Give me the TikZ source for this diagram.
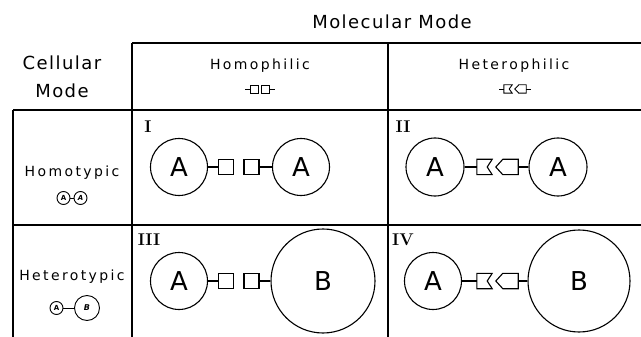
\documentclass[tikz,border=0pt]{standalone}
\usepackage{fontspec}
\newfontfamily\hdfont[LetterSpace=8]{DejaVu Sans}
\newfontfamily\lbfont[LetterSpace=17]{DejaVu Sans}
\newfontfamily\cellfont{DejaVu Sans}
\begin{document}
\begin{tikzpicture}[x=1pt,y=-1pt,
  frame/.style={line width=1.8pt},
  conn/.style={line width=1.1pt},
  thinconn/.style={line width=0.9pt},
  cellc/.style={circle,draw,line width=1.1pt,inner sep=0pt,font=\cellfont\fontsize{26}{26}\selectfont},
  recsq/.style={rectangle,draw,line width=1.1pt,inner sep=0pt,minimum width=15pt,minimum height=15pt},
  recbox/.style={rectangle,inner sep=0pt,minimum height=15pt},
  smsq/.style={rectangle,draw,line width=0.9pt,inner sep=0pt,minimum width=8pt,minimum height=8pt},
  smbox/.style={rectangle,inner sep=0pt,minimum height=8pt},
  icoc/.style={circle,draw,line width=0.9pt,inner sep=0pt,font=\cellfont\bfseries\fontsize{7}{7}\selectfont},
  hd/.style={font=\hdfont\fontsize{18}{18}\selectfont},
  lbl/.style={font=\lbfont\fontsize{14}{14}\selectfont},
  num/.style={font=\rmfamily\bfseries\fontsize{17}{17}\selectfont}
]
\fill[white] (0,0) rectangle (641,337);
\useasboundingbox (0,0) rectangle (641,337);

% table frame
\draw[frame] (132,43) -- (641,43);
\draw[frame] (13,110) -- (641,110);
\draw[frame] (13,225) -- (641,225);
\draw[frame] (13,110) -- (13,337);
\draw[frame] (132,43) -- (132,337);
\draw[frame] (388,43) -- (388,337);

% headings
\node[hd] (mm) at (392,22) {Molecular Mode};
\node[hd] (cm1) at (62,63) {Cellular};
\node[hd] (cm2) at (62,91) {Mode};
\node[lbl] (homoph) at (260,66) {Homophilic};
\node[lbl] (heteroph) at (514,66) {Heterophilic};
\node[lbl] (homot) at (72,173) {Homotypic};
\node[lbl] (heterot) at (72,277) {Heterotypic};

% homophilic icon
\node[smsq] (hs1) at (254.5,89) {};
\node[smsq] (hs2) at (265.5,89) {};
\coordinate (hsl) at (245,89);
\coordinate (hsr) at (275,89);
\draw[thinconn] (hsl) -- (hs1);
\draw[thinconn] (hs2) -- (hsr);

% heterophilic icon
\node[smbox,minimum width=8pt] (hn) at (508,89) {};
\draw[line width=0.9pt] (hn.north west) -- (hn.north east) -- ([xshift=-3pt]hn.east) -- (hn.south east) -- (hn.south west) -- cycle;
\node[smbox,minimum width=11pt] (hp) at (520.5,89) {};
\draw[line width=0.9pt] (hp.north east) -- ([xshift=4pt]hp.north west) -- (hp.west) -- ([xshift=4pt]hp.south west) -- (hp.south east) -- cycle;
\coordinate (hnl) at (499,89);
\coordinate (hpr) at (531,89);
\draw[thinconn] (hnl) -- (hn);
\draw[thinconn] (hp) -- (hpr);

% homotypic icon
\node[icoc,minimum size=13pt] (ta1) at (63.5,198) {A};
\node[icoc,minimum size=13pt,font=\cellfont\bfseries\itshape\fontsize{7}{7}\selectfont] (ta2) at (80.5,198) {A};
\draw[thinconn] (ta1) -- (ta2);

% heterotypic icon
\node[icoc,minimum size=13pt] (tb1) at (56.5,308) {A};
\node[icoc,minimum size=25pt,font=\cellfont\bfseries\itshape\fontsize{8}{8}\selectfont] (tb2) at (87,308) {B};
\draw[thinconn] (tb1) -- (tb2);

% numerals
\node[num] (n1) at (148,127) {I};
\node[num] (n2) at (403,127) {II};
\node[num] (n3) at (149,240) {III};
\node[num] (n4) at (403,240) {IV};

% panel I
\node[cellc,minimum size=57pt] (c1a) at (179,167) {A};
\node[recsq] (c1s1) at (226,167) {};
\node[recsq] (c1s2) at (251.5,167) {};
\node[cellc,minimum size=57pt] (c1b) at (301,167) {A};
\draw[conn] (c1a) -- (c1s1);
\draw[conn] (c1s2) -- (c1b);

% panel II
\node[cellc,minimum size=58pt] (c2a) at (435,167) {A};
\node[recbox,minimum width=15pt] (c2n) at (484.5,167) {};
\draw[conn] (c2n.north west) -- (c2n.north east) -- ([xshift=-5pt]c2n.east) -- (c2n.south east) -- (c2n.south west) -- cycle;
\node[recbox,minimum width=22pt] (c2p) at (507,167) {};
\draw[conn] (c2p.north east) -- ([xshift=7pt]c2p.north west) -- (c2p.west) -- ([xshift=7pt]c2p.south west) -- (c2p.south east) -- cycle;
\node[cellc,minimum size=58pt] (c2b) at (558,167) {A};
\draw[conn] (c2a) -- (c2n);
\draw[conn] (c2p) -- (c2b);

% panel III
\node[cellc,minimum size=57pt] (c3a) at (179,281) {A};
\node[recsq] (c3s1) at (226,281) {};
\node[recsq] (c3s2) at (251.5,281) {};
\node[cellc,minimum size=104pt] (c3b) at (323,281) {B};
\draw[conn] (c3a) -- (c3s1);
\draw[conn] (c3s2) -- (c3b);

% panel IV
\node[cellc,minimum size=57pt] (c4a) at (433,281) {A};
\node[recbox,minimum width=15pt] (c4n) at (484.5,281) {};
\draw[conn] (c4n.north west) -- (c4n.north east) -- ([xshift=-5pt]c4n.east) -- (c4n.south east) -- (c4n.south west) -- cycle;
\node[recbox,minimum width=22pt] (c4p) at (507,281) {};
\draw[conn] (c4p.north east) -- ([xshift=7pt]c4p.north west) -- (c4p.west) -- ([xshift=7pt]c4p.south west) -- (c4p.south east) -- cycle;
\node[cellc,minimum size=102pt] (c4b) at (579,281) {B};
\draw[conn] (c4a) -- (c4n);
\draw[conn] (c4p) -- (c4b);
\end{tikzpicture}
\end{document}
